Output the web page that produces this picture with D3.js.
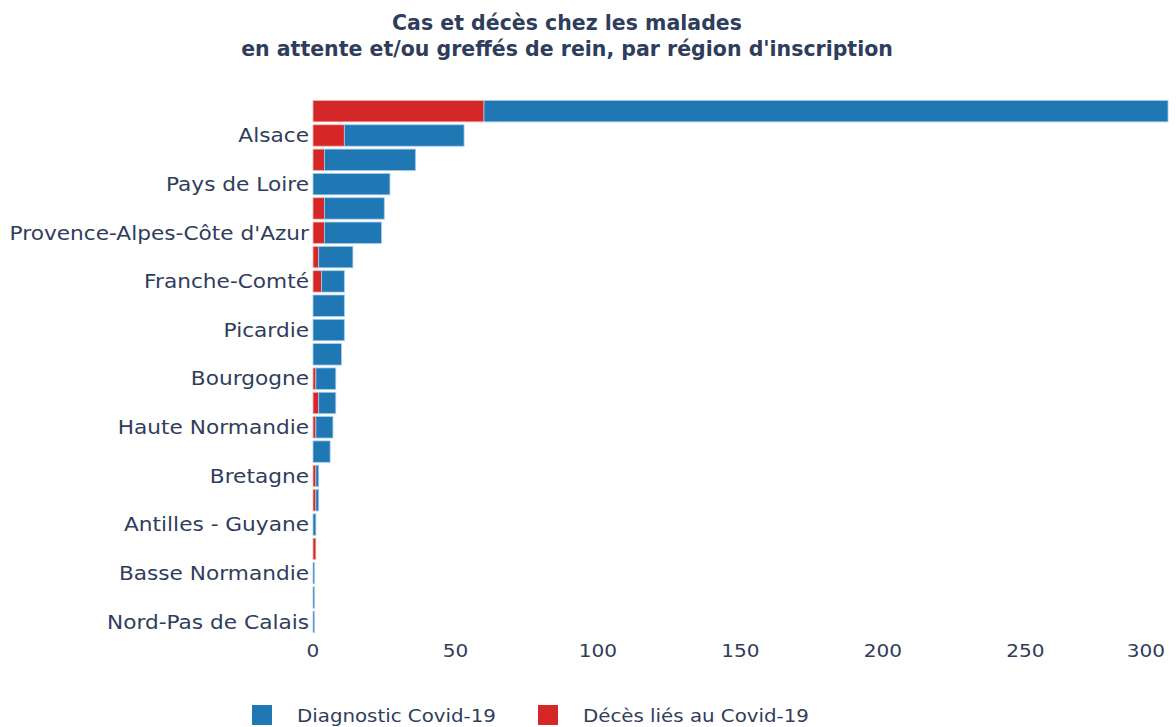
<!DOCTYPE html>
<html>
<head>
<meta charset="utf-8">
<script src="https://cdn.jsdelivr.net/npm/d3@7"></script>
<style>
  body { margin: 0; background: #fff; }
  text { font-family: "DejaVu Sans", Verdana, sans-serif; }
</style>
</head>
<body>
<div id="viz"></div>
<script>
// regions, top to bottom (only every other name shows on the axis)
var regions = ["Ile-de-France", "Alsace", "Lorraine", "Pays de Loire", "Rhône-Alpes",
  "Provence-Alpes-Côte d'Azur", "Champagne-Ardenne", "Franche-Comté", "Centre", "Picardie",
  "Midi-Pyrénées", "Bourgogne", "Aquitaine", "Haute Normandie", "Languedoc-Roussillon",
  "Bretagne", "Auvergne", "Antilles - Guyane", "Poitou-Charentes", "Basse Normandie",
  "Limousin", "Nord-Pas de Calais"];
var deces = [60, 11, 4, 0, 4, 4, 2, 3, 0, 0, 0, 1, 2, 1, 0, 1, 1, 0, 1, 0, 0, 0];
var diagnostic = [240, 42, 32, 27, 21, 20, 12, 8, 11, 11, 10, 7, 6, 6, 6, 1, 1, 1, 0, 0.5, 0.5, 0.5];
var xTicks = [0, 50, 100, 150, 200, 250, 300];

var width = 1176, height = 727
var blue = "#1f77b4", red = "#d62728"
var textColour = "#2f3d5c"

// the reference text is a bit wider than DejaVu, so widen it a little
function stretch(sel, k) {
  sel.each(function() {
    var len = this.getComputedTextLength();
    d3.select(this).attr("textLength", len * k).attr("lengthAdjust", "spacingAndGlyphs");
  });
}

var svg = d3.select("#viz").append("svg")
  .attr("width", width)
  .attr("height", height);

var x = d3.scaleLinear().domain([0, 300]).range([313, 1168]);
var y = d3.scaleBand().domain(regions).range([99, 634]).paddingInner(0.12).paddingOuter(0.06);

svg.append("text")
  .attr("x", 567).attr("y", 30)
  .attr("text-anchor", "middle")
  .style("font-weight", "bold")
  .style("font-size", "20.5px")
  .attr("fill", textColour)
  .text("Cas et décès chez les malades");
svg.append("text")
  .attr("x", 567).attr("y", 56)
  .attr("text-anchor", "middle")
  .style("font-weight", "bold")
  .style("font-size", "20.5px")
  .attr("fill", textColour)
  .text("en attente et/ou greffés de rein, par région d'inscription");

// deaths first, diagnosed stacked after
svg.append("g").selectAll("rect")
  .data(regions)
  .join("rect")
  .attr("x", x(0))
  .attr("y", d => y(d))
  .attr("width", (d, i) => x(deces[i]) - x(0))
  .attr("height", y.bandwidth())
  .attr("fill", red)
  .attr("stroke", "#f2b6b6")
  .attr("stroke-width", 0.8);

svg.append("g").selectAll("rect")
  .data(regions)
  .join("rect")
  .attr("x", (d, i) => x(deces[i]))
  .attr("y", d => y(d))
  .attr("width", (d, i) => x(deces[i] + diagnostic[i]) - x(deces[i]))
  .attr("height", y.bandwidth())
  .attr("fill", blue)
  .attr("stroke", "#a8cbe8")
  .attr("stroke-width", 0.8);

// y labels, every other row
svg.append("g").selectAll("text")
  .data(regions.filter((d, i) => i % 2 == 1))
  .join("text")
  .attr("x", 309)
  .attr("y", d => y(d) + y.bandwidth() / 2)
  .attr("dy", "0.36em")
  .attr("text-anchor", "end")
  .style("font-size", "19px")
  .attr("fill", textColour)
  .text(d => d)
  .call(stretch, 1.14);

svg.append("g").selectAll("text")
  .data(xTicks)
  .join("text")
  .attr("x", d => d == 300 ? x(d) - 22 : x(d))
  .attr("y", 657)
  .attr("text-anchor", "middle")
  .style("font-size", "17px")
  .attr("fill", textColour)
  .text(d => d)
  .call(stretch, 1.18);

// legend
var legend = [["Diagnostic Covid-19", blue, 252], ["Décès liés au Covid-19", red, 538]];
var lg = svg.append("g").selectAll("g").data(legend).join("g");
lg.append("rect")
  .attr("x", d => d[2]).attr("y", 705)
  .attr("width", 20).attr("height", 20)
  .attr("fill", d => d[1]);
lg.append("text")
  .attr("x", d => d[2] + 45).attr("y", 722)
  .style("font-size", "18px")
  .attr("fill", textColour)
  .text(d => d[0])
  .call(stretch, 1.1);
</script>
</body>
</html>
